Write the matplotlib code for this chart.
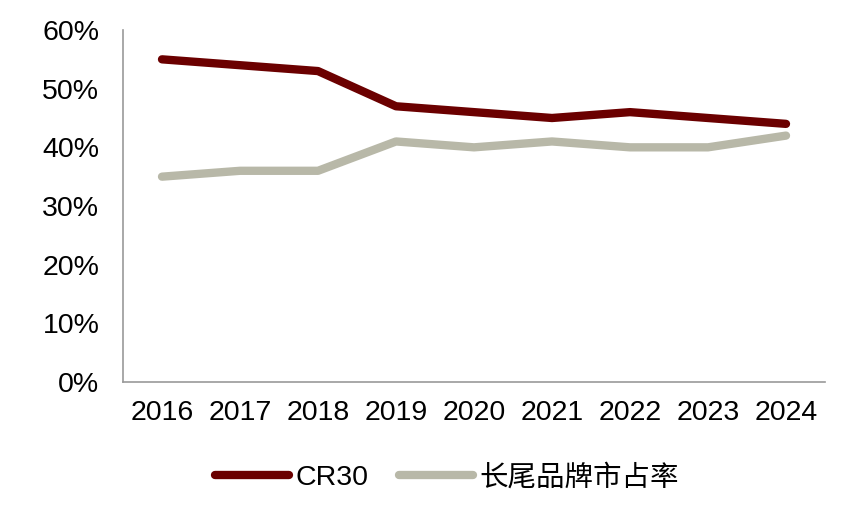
import matplotlib
matplotlib.use("Agg")
import matplotlib.pyplot as plt
from matplotlib.ticker import FuncFormatter

plt.rcParams['font.family'] = ['Liberation Sans', 'Noto Sans CJK SC', 'DejaVu Sans']

years = ["2016", "2017", "2018", "2019", "2020", "2021", "2022", "2023", "2024"]
cr30 = [55, 54, 53, 47, 46, 45, 46, 45, 44]
long_tail = [35, 36, 36, 41, 40, 41, 40, 40, 42]
labels = ["CR30", "长尾品牌市占率"]

fig = plt.figure(figsize=(8.68, 5.11), dpi=100)
ax = fig.add_axes([123/868, 1-382/511, (825-123)/868, (382-30)/511])

x = list(range(len(years)))
ax.plot(x, cr30, color="#6B0000", lw=6, solid_capstyle="round", solid_joinstyle="round", label=labels[0])
ax.plot(x, long_tail, color="#B8B8A8", lw=6, solid_capstyle="round", solid_joinstyle="round", label=labels[1])

ax.set_xlim(-0.5, len(years) - 0.5)
ax.set_ylim(0, 60)
ax.set_yticks(range(0, 61, 10))
ax.yaxis.set_major_formatter(FuncFormatter(lambda v, p: f"{int(v)}%"))
ax.set_xticks(x)
ax.set_xticklabels(years)
ax.tick_params(axis="both", length=0, labelsize=20.5, colors="black")
ax.tick_params(axis="x", pad=13)
ax.tick_params(axis="y", pad=17)
for s in ["top", "right"]:
    ax.spines[s].set_visible(False)
for s in ["left", "bottom"]:
    ax.spines[s].set_color("#999999")
    ax.spines[s].set_linewidth(1.2)

leg = fig.legend(loc="center", bbox_to_anchor=(447/868, 1-478/511), ncol=2, frameon=False,
                 fontsize=20.5, handlelength=2.6, handletextpad=0.2, columnspacing=1.1)
fig.savefig("out.png", dpi=100)
